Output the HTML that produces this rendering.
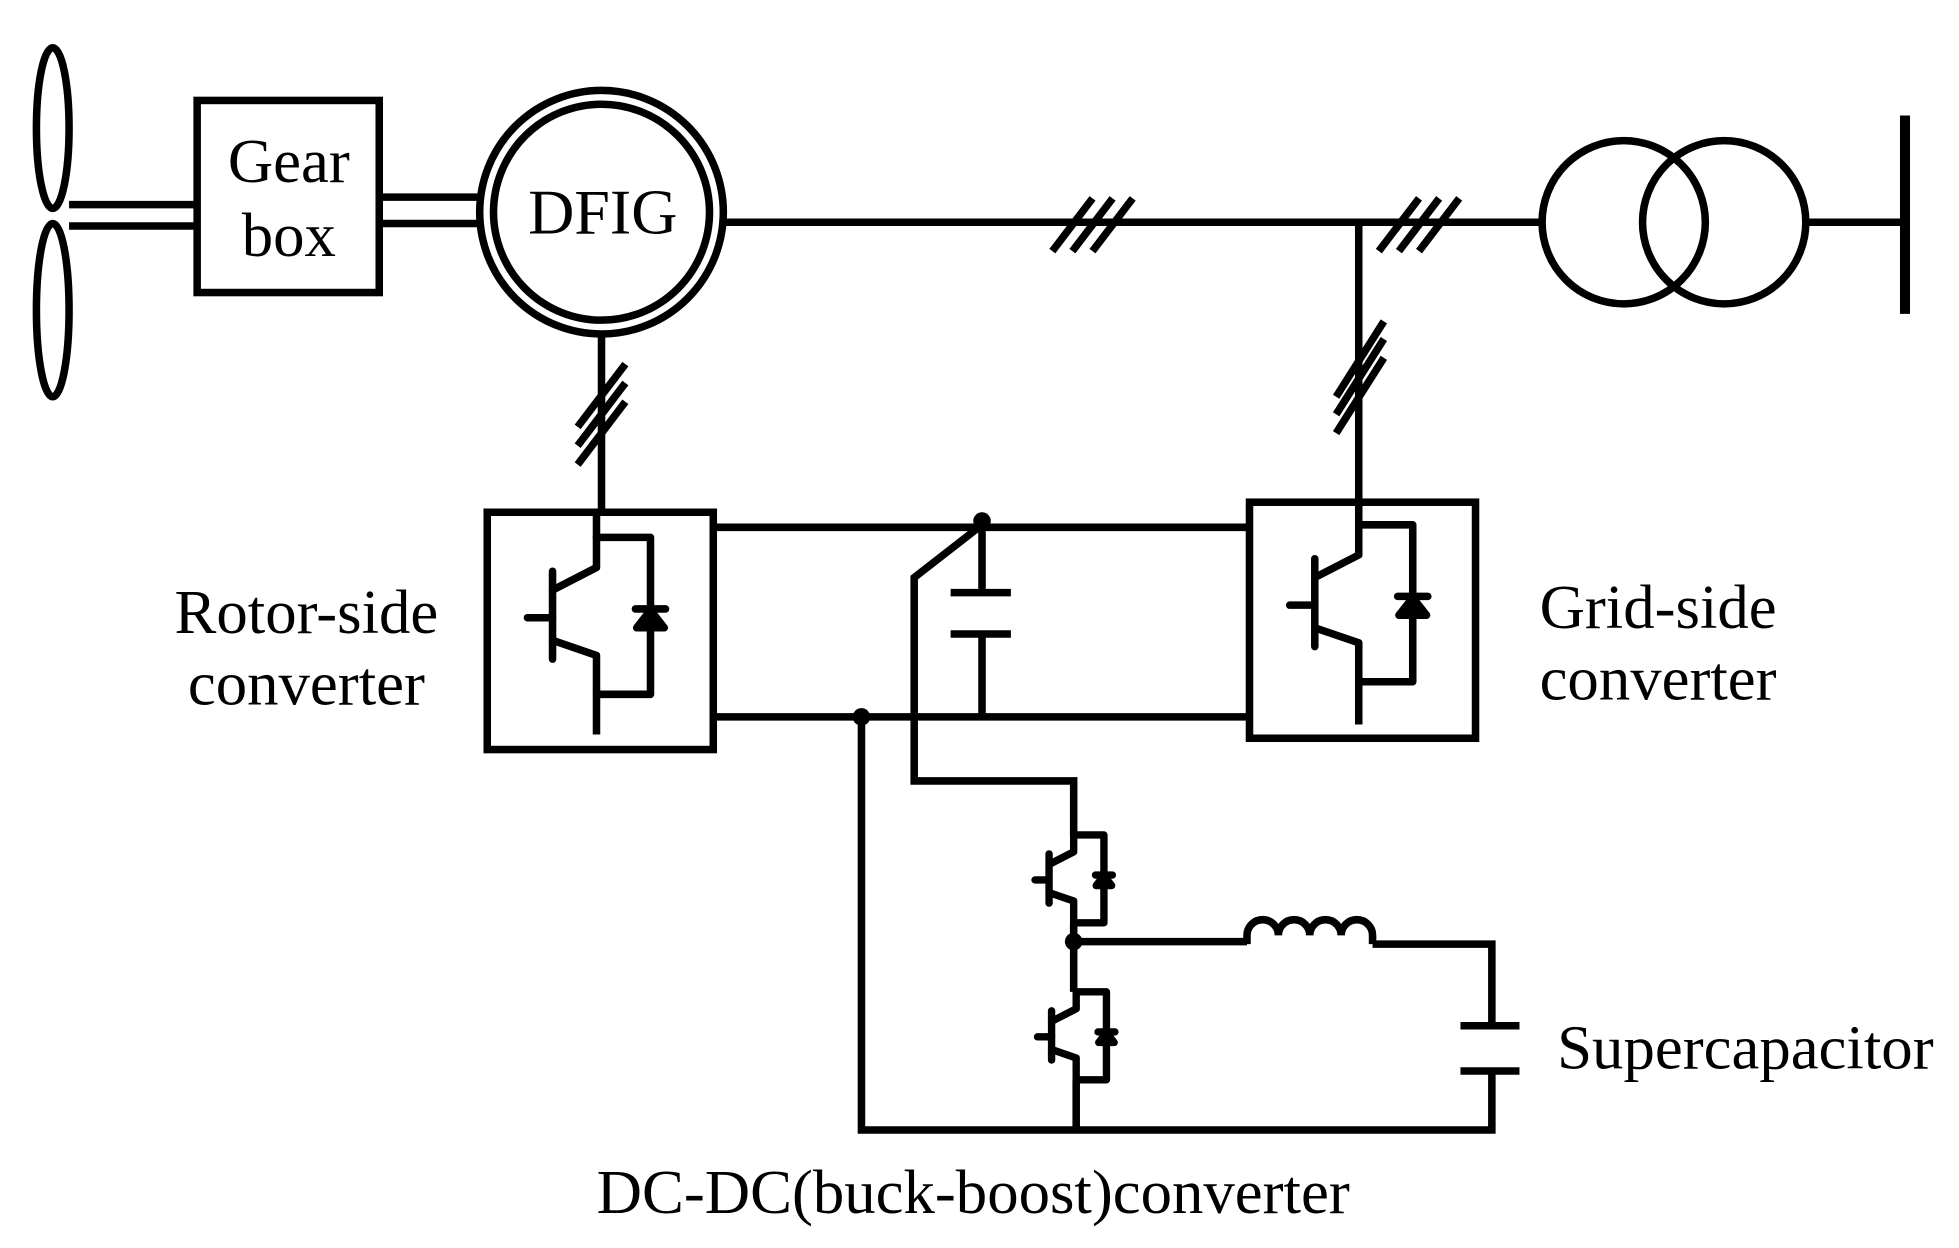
<!DOCTYPE html>
<html><head><meta charset="utf-8"><style>
html,body{margin:0;padding:0;background:#fff;}
svg{display:block}
text{font-family:"Liberation Serif",serif;fill:#000}
</style></head><body>
<svg width="1959" height="1248" viewBox="0 0 1560 994" preserveAspectRatio="none" xmlns="http://www.w3.org/2000/svg">
<defs>
<g id="igbt" fill="none" stroke="#000" stroke-linejoin="round" stroke-linecap="round">
  <path d="M0,0 H43 V125 H3"/>
  <path d="M0,0 V24 L-35,42"/>
  <path d="M-35,27 V97"/>
  <path d="M-55,64 H-35"/>
  <path d="M-35,82 L0,94 V125"/>
  <polygon points="32,72 54,72 43,58" fill="#000"/>
  <path d="M31,57 H55"/>
</g>
</defs>
<g fill="none" stroke="#000" stroke-width="6">
  <ellipse cx="42" cy="102" rx="13" ry="64"/>
  <ellipse cx="42" cy="247" rx="13" ry="69"/>
  <path d="M55,163 H157 M55,180 H157"/>
  <rect x="157" y="80" width="145" height="153"/>
  <path d="M302,157 H382 M302,178 H382"/>
  <circle cx="479" cy="169" r="97"/>
  <circle cx="479" cy="169" r="86"/>
  <path d="M577,177 H1226"/>
  <path d="M838,200 L870,158 M854,200 L886,158 M870,200 L902,158"/>
  <path d="M1098,200 L1130,158 M1114,200 L1146,158 M1130,200 L1162,158"/>
  <path d="M1082,177 V400"/>
  <path d="M1064,330 L1102,270 M1064,345 L1102,285 M1064,316 L1102,256"/>
  <circle cx="1293" cy="177" r="65"/>
  <circle cx="1373" cy="177" r="65"/>
  <path d="M1438,177 H1515"/>
  <path d="M1517,92 V250" stroke-width="8"/>
  <path d="M479,266 V408"/>
  <path d="M460,340 L498,290 M460,355 L498,305 M460,370 L498,320"/>
  <rect x="388" y="408" width="180" height="189"/>
  <rect x="995" y="400" width="180" height="188"/>
  <path d="M475,408 V428 M475,553 V585"/>
  <path d="M1082,400 V418 M1082,543 V577"/>
  <path d="M568,420 H995 M568,571 H995"/>
  <path d="M782,415 V472 M757,472 H805 M757,505 H805 M782,505 V571"/>
  <path d="M782,418 L728,460 V622 H855 V665"/>
  <path d="M686,571 V900 H1188 V853 M1163,853 H1210 M1163,817 H1210 M1188,817 V752 H1093"/>
  <path d="M855,735 V790 M855,750 H993 M857,860 V900"/>
  <path d="M993,752 V745 A12.5,12.5 0 0 1 1018,745 A12.5,12.5 0 0 1 1043,745 A12.5,12.5 0 0 1 1068,745 A12.5,12.5 0 0 1 1093,745 V752"/>
</g>
<g fill="#000">
  <circle cx="782" cy="415" r="7"/>
  <circle cx="686" cy="571" r="7"/>
  <circle cx="855" cy="750" r="7"/>
</g>
<use href="#igbt" stroke-width="6" transform="translate(475,428)"/>
<use href="#igbt" stroke-width="6" transform="translate(1082,418)"/>
<use href="#igbt" stroke-width="10.5" transform="translate(855,665) scale(0.56)" />
<use href="#igbt" stroke-width="10.5" transform="translate(857,790) scale(0.56)" />
<g font-size="50">
  <text x="230" y="145" text-anchor="middle">Gear</text>
  <text x="230" y="204" text-anchor="middle">box</text>
  <text x="480" y="186" text-anchor="middle" font-size="51">DFIG</text>
  <text x="244" y="504" text-anchor="middle">Rotor-side</text>
  <text x="244" y="561" text-anchor="middle">converter</text>
  <text x="1226" y="500">Grid-side</text>
  <text x="1226" y="557">converter</text>
  <text x="1240" y="851">Supercapacitor</text>
  <text x="775" y="966" text-anchor="middle">DC-DC(buck-boost)converter</text>
</g>
</svg>
</body></html>
